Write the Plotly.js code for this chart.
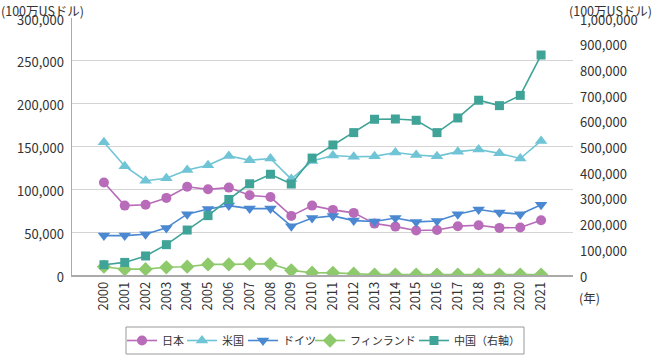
<!DOCTYPE html>
<html>
<head>
<meta charset="utf-8">
<script src="https://cdn.plot.ly/plotly-3.0.1.min.js"></script>
<style>html,body{margin:0;padding:0;background:#fff;}#chart{width:653px;height:355px;}</style>
</head>
<body>
<div id="chart"></div>
<script>
const years = ["2000","2001","2002","2003","2004","2005","2006","2007","2008","2009","2010","2011","2012","2013","2014","2015","2016","2017","2018","2019","2020","2021"];
const japan = [108000,81000,82000,90000,103000,100000,102000,93000,91000,69000,81000,76000,72500,60000,56500,52000,52500,57000,58000,55000,55500,64000];
const usa = [155000,127000,110000,113000,122500,128000,139000,134000,136000,112000,133000,139500,138000,138500,143000,140000,138500,144000,146500,142000,136000,156500];
const germany = [46000,46000,47500,55000,71000,77000,81000,77500,77500,57000,66500,69000,63500,62500,66500,62000,63000,71000,76500,73000,71000,82000];
const finland = [9700,6800,6800,9000,9700,12400,12400,13000,13000,5400,2700,2500,1500,500,500,500,500,500,500,500,500,500];
const china = [40000,49000,74000,118000,175000,231000,294000,355000,392000,354000,455000,506000,554000,606000,607000,602000,554000,611000,680000,659000,699000,856000];
const names = ["日本","米国","ドイツ","フィンランド","中国（右軸）"];

const font = "'Noto Sans CJK JP','Noto Sans',sans-serif";
const L = 72, R = 80, T = 18, B = 80, W = 653, H = 355;
const pw = W - L - R, ph = H - T - B;
const px2x = p => (p - L) / pw;
const py2y = p => (H - B - p) / ph;

function tr(y, name, color, symbol, size, yaxis, legend){
  return {x: years, y: y, name: name, type:'scatter', mode:'lines+markers', yaxis: yaxis||'y', legend: legend,
    line:{color:color, width:1.6}, marker:{color:color, symbol:symbol, size:size}};
}
const data = [
  tr(japan, names[0], '#b86bb8', 'circle', 10, 'y', 'legend'),
  tr(usa, names[1], '#6fc4d6', 'triangle-up', 11, 'y', 'legend2'),
  tr(germany, names[2], '#4a88d2', 'triangle-down', 11, 'y', 'legend3'),
  tr(finland, names[3], '#8ec96c', 'diamond', 11, 'y', 'legend4'),
  tr(china, names[4], '#3fa398', 'square', 9, 'y2', 'legend5')
];
// legend text start positions (px) of each entry
const legTextX = [162, 222, 283, 350, 454];
function leg(i){
  return {orientation:'h', xref:'container', yref:'container', x: (legTextX[i] - 40) / W, xanchor:'left',
    y: 1 - 340.5 / H, yanchor:'middle',
    bgcolor:'rgba(0,0,0,0)', borderwidth:0, font:{size:11, family:font, color:'#333'}, itemwidth:30};
}
const layout = {
  width:W, height:H,
  margin:{l:L, r:R, t:T, b:B},
  paper_bgcolor:'#fff', plot_bgcolor:'#fff',
  font:{family:font, size:13, color:'#333'},
  separators:'.,',
  showlegend:true,
  legend:leg(0), legend2:leg(1), legend3:leg(2), legend4:leg(3), legend5:leg(4),
  xaxis:{type:'category', tickangle:-90, showgrid:false, showline:true, linecolor:'#aaa', linewidth:1.5,
    ticks:'', tickfont:{size:13}, zeroline:false, automargin:false},
  yaxis:{range:[0,300000], dtick:50000, tickformat:',d', showgrid:true, gridcolor:'#d4d4d4', gridwidth:1, automargin:false,
    showline:true, linecolor:'#aaa', linewidth:1.5, zeroline:false, ticks:'', ticklabelstandoff:4, ticklabelshift:2, tickfont:{size:13}},
  yaxis2:{range:[0,1000000], dtick:100000, tickformat:',d', overlaying:'y', side:'right', showgrid:false, automargin:false,
    showline:false, zeroline:false, ticks:'', ticklabelstandoff:6, ticklabelshift:2, tickfont:{size:13}},
  shapes:[
    {type:'rect', xref:'paper', yref:'paper', x0:px2x(126), x1:px2x(524), y0:py2y(354), y1:py2y(327),
      line:{color:'#999', width:1}, fillcolor:'rgba(0,0,0,0)', layer:'below'}
  ],
  annotations:[
    {text:'(100万USドル)', xref:'paper', yref:'paper', x:px2x(0), y:py2y(0), xanchor:'left', yanchor:'top', showarrow:false, font:{size:12.5}, borderpad:0},
    {text:'(100万USドル)', xref:'paper', yref:'paper', x:px2x(653), y:py2y(0), xanchor:'right', yanchor:'top', showarrow:false, font:{size:12.5}, borderpad:0},
    {text:'(年)', xref:'paper', yref:'paper', x:px2x(577), y:py2y(286), xanchor:'left', yanchor:'top', showarrow:false, font:{size:12.5}}
  ]
};
Plotly.newPlot('chart', data, layout, {staticPlot:true, displayModeBar:false});
</script>
</body>
</html>
